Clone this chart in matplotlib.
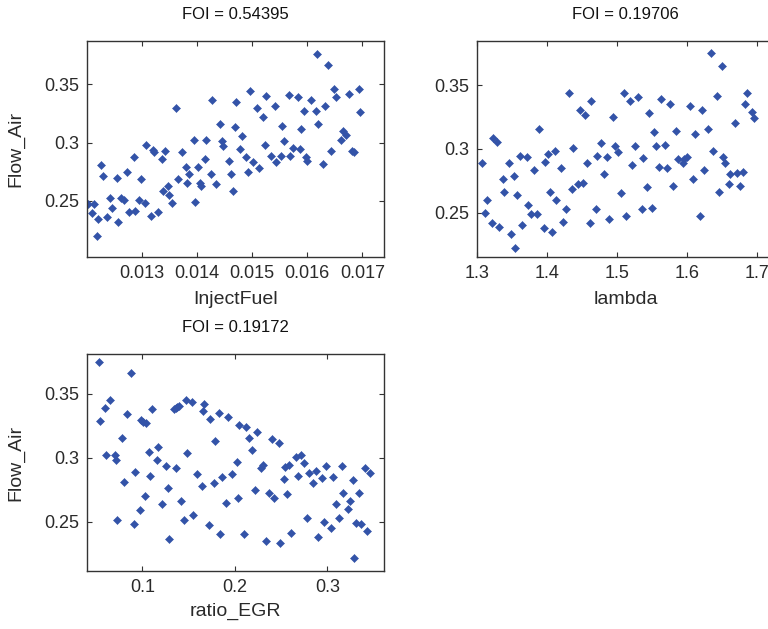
import matplotlib
matplotlib.use("Agg")
import matplotlib.pyplot as plt

# ---------------- data ----------------
inject_fuel = [0.01203, 0.01213, 0.01209, 0.01221, 0.01219, 0.01225, 0.01230, 0.01236, 0.01242, 0.01245,
               0.01255, 0.01256, 0.01262, 0.01267, 0.01273, 0.01276, 0.01285, 0.01288, 0.01294, 0.01299,
               0.01306, 0.01308, 0.01316, 0.01320, 0.01321, 0.01330, 0.01337, 0.01342, 0.01339, 0.01347,
               0.01350, 0.01355, 0.01362, 0.01365, 0.01372, 0.01380, 0.01382, 0.01385, 0.01394, 0.01397,
               0.01402, 0.01406, 0.01408, 0.01414, 0.01417, 0.01425, 0.01428, 0.01435, 0.01441, 0.01445,
               0.01448, 0.01458, 0.01461, 0.01465, 0.01468, 0.01471, 0.01478, 0.01481, 0.01489, 0.01492,
               0.01497, 0.01502, 0.01508, 0.01512, 0.01519, 0.01523, 0.01526, 0.01535, 0.01541, 0.01544,
               0.01552, 0.01555, 0.01558, 0.01567, 0.01569, 0.01575, 0.01584, 0.01587, 0.01589, 0.01595,
               0.01598, 0.01600, 0.01606, 0.01615, 0.01617, 0.01619, 0.01628, 0.01632, 0.01638, 0.01644,
               0.01648, 0.01653, 0.01661, 0.01664, 0.01670, 0.01675, 0.01682, 0.01685, 0.01694, 0.01696]
flow_air_1 = [0.2471, 0.2471, 0.2396, 0.2341, 0.2195, 0.2808, 0.2713, 0.2356, 0.2520, 0.2439,
              0.2699, 0.2316, 0.2520, 0.2506, 0.2751, 0.2399, 0.2875, 0.2411, 0.2506, 0.2684,
              0.2477, 0.2981, 0.2370, 0.2938, 0.2915, 0.2399, 0.2857, 0.2932, 0.2586, 0.2630,
              0.2549, 0.2477, 0.3298, 0.2684, 0.2915, 0.2794, 0.2656, 0.2728, 0.3024, 0.2491,
              0.2794, 0.2656, 0.2630, 0.2863, 0.3024, 0.2728, 0.3365, 0.2641, 0.3160, 0.3010,
              0.2967, 0.2846, 0.2728, 0.2586, 0.3134, 0.3350, 0.2944, 0.3053, 0.2875, 0.2751,
              0.3448, 0.2831, 0.3298, 0.2780, 0.3218, 0.2981, 0.3405, 0.2889, 0.3313, 0.2831,
              0.2889, 0.3146, 0.3010, 0.3408, 0.2889, 0.2952, 0.3390, 0.2947, 0.3120, 0.3269,
              0.2875, 0.2846, 0.3365, 0.3269, 0.3759, 0.3160, 0.2820, 0.3313, 0.3667, 0.2932,
              0.3463, 0.3390, 0.3024, 0.3097, 0.3068, 0.3419, 0.2924, 0.2915, 0.3463, 0.3261]

lambda_vals = [1.3072, 1.3119, 1.3143, 1.3215, 1.3234, 1.3281, 1.3319, 1.3367, 1.3391, 1.3453,
               1.3482, 1.3524, 1.3548, 1.3567, 1.3615, 1.3639, 1.3710, 1.3729, 1.3772, 1.3815,
               1.3863, 1.3892, 1.3954, 1.3973, 1.4020, 1.4044, 1.4068, 1.4116, 1.4135, 1.4201,
               1.4225, 1.4268, 1.4316, 1.4359, 1.4378, 1.4449, 1.4473, 1.4521, 1.4545, 1.4569,
               1.4611, 1.4631, 1.4702, 1.4721, 1.4769, 1.4816, 1.4859, 1.4883, 1.4950, 1.4974,
               1.5021, 1.5055, 1.5107, 1.5131, 1.5188, 1.5222, 1.5260, 1.5307, 1.5355, 1.5379,
               1.5436, 1.5465, 1.5508, 1.5536, 1.5555, 1.5598, 1.5627, 1.5694, 1.5713, 1.5760,
               1.5799, 1.5846, 1.5870, 1.5942, 1.5965, 1.6008, 1.6046, 1.6094, 1.6118, 1.6190,
               1.6213, 1.6247, 1.6304, 1.6342, 1.6366, 1.6437, 1.6461, 1.6499, 1.6523, 1.6547,
               1.6595, 1.6619, 1.6681, 1.6714, 1.6752, 1.6800, 1.6833, 1.6857, 1.6929, 1.6952]
flow_air_2 = [0.2886, 0.2500, 0.2599, 0.2416, 0.3082, 0.3056, 0.2390, 0.2761, 0.2659, 0.2886,
              0.2330, 0.2787, 0.2221, 0.2638, 0.2946, 0.2403, 0.2933, 0.2560, 0.2487, 0.2834,
              0.2487, 0.3155, 0.2377, 0.2897, 0.2960, 0.2659, 0.2351, 0.2986, 0.2599, 0.2847,
              0.2424, 0.2526, 0.3440, 0.2685, 0.3004, 0.2725, 0.3304, 0.2735, 0.3265, 0.2886,
              0.2416, 0.3377, 0.2526, 0.2946, 0.3048, 0.2800, 0.2933, 0.2450, 0.3252, 0.3025,
              0.2973, 0.2651, 0.3440, 0.2477, 0.3377, 0.2873, 0.3022, 0.3403, 0.2526, 0.2926,
              0.2698, 0.3278, 0.2539, 0.3129, 0.3022, 0.2860, 0.3390, 0.3030, 0.2847, 0.3351,
              0.2711, 0.3142, 0.2923, 0.2886, 0.2923, 0.2933, 0.3338, 0.2761, 0.3116, 0.2477,
              0.3304, 0.2834, 0.3155, 0.3751, 0.2986, 0.3416, 0.2664, 0.3651, 0.2933, 0.2886,
              0.2725, 0.2800, 0.3205, 0.2808, 0.2711, 0.2821, 0.3351, 0.3440, 0.3291, 0.3239]

ratio_egr = [0.0527, 0.0545, 0.0592, 0.0610, 0.0646, 0.0700, 0.0718, 0.0729, 0.0780, 0.0798,
             0.0834, 0.0881, 0.0906, 0.0921, 0.0971, 0.0982, 0.1007, 0.1025, 0.1043, 0.1069,
             0.1087, 0.1108, 0.1159, 0.1173, 0.1209, 0.1260, 0.1278, 0.1292, 0.1343, 0.1365,
             0.1375, 0.1397, 0.1368, 0.1415, 0.1448, 0.1466, 0.1480, 0.1531, 0.1549, 0.1585,
             0.1639, 0.1650, 0.1668, 0.1722, 0.1736, 0.1773, 0.1787, 0.1827, 0.1841, 0.1859,
             0.1906, 0.1928, 0.1964, 0.2029, 0.2018, 0.2047, 0.2097, 0.2116, 0.2152, 0.2181,
             0.2217, 0.2238, 0.2282, 0.2300, 0.2336, 0.2372, 0.2401, 0.2426, 0.2477, 0.2487,
             0.2527, 0.2542, 0.2560, 0.2588, 0.2606, 0.2657, 0.2682, 0.2715, 0.2751, 0.2783,
             0.2798, 0.2848, 0.2874, 0.2903, 0.2939, 0.2968, 0.2986, 0.3040, 0.3058, 0.3090,
             0.3123, 0.3155, 0.3173, 0.3220, 0.3242, 0.3278, 0.3292, 0.3307, 0.3347, 0.3361,
             0.3426, 0.3408, 0.3462]
flow_air_3 = [0.3748, 0.3291, 0.3388, 0.3022, 0.3453, 0.3022, 0.2983, 0.2513, 0.3158, 0.2808,
              0.3343, 0.3662, 0.2479, 0.2886, 0.2591, 0.3296, 0.3283, 0.2701, 0.3270, 0.3046,
              0.2858, 0.3380, 0.2983, 0.3082, 0.2638, 0.2936, 0.2761, 0.2364, 0.3380, 0.3388,
              0.3401, 0.3409, 0.2923, 0.2664, 0.2513, 0.3453, 0.3035, 0.3440, 0.2552, 0.2873,
              0.2782, 0.3367, 0.3419, 0.2474, 0.3304, 0.2800, 0.3132, 0.3354, 0.2403, 0.2847,
              0.2649, 0.3317, 0.2871, 0.2688, 0.2970, 0.3257, 0.2403, 0.3244, 0.3158, 0.3061,
              0.2748, 0.3205, 0.2918, 0.2944, 0.2351, 0.2727, 0.3145, 0.2688, 0.3119, 0.2330,
              0.2832, 0.2931, 0.2714, 0.2944, 0.2414, 0.3009, 0.2858, 0.3022, 0.2962, 0.2526,
              0.2884, 0.2800, 0.2897, 0.2377, 0.2839, 0.2500, 0.2936, 0.2453, 0.2847, 0.2638,
              0.2526, 0.2936, 0.2722, 0.2597, 0.2662, 0.2826, 0.2218, 0.2492, 0.2722, 0.2479,
              0.2430, 0.2923, 0.2884]

titles = ["FOI = 0.54395", "FOI = 0.19706", "FOI = 0.19172"]
xlabels = ["InjectFuel", "lambda", "ratio_EGR"]
ylabel = "Flow_Air"
xticks_1 = [0.013, 0.014, 0.015, 0.016, 0.017]
xticks_2 = [1.3, 1.4, 1.5, 1.6, 1.7]
xticks_3 = [0.1, 0.2, 0.3]
yticks = [0.25, 0.3, 0.35]

# ---------------- style ----------------
plt.rcParams['font.family'] = ['Liberation Sans', 'DejaVu Sans']
TITLE_FONT = ['Liberation Sans Narrow', 'Liberation Sans', 'DejaVu Sans']
MARKER_COLOR = '#3353A8'
TEXT_COLOR = '#2a2a2a'

W, H = 768, 629
fig = plt.figure(figsize=(W / 100, H / 100), dpi=100)
fig.patch.set_facecolor('white')


def make_axes(left, top, right, bottom):
    return fig.add_axes([left / W, 1 - bottom / H, (right - left) / W, (bottom - top) / H])


ax1 = make_axes(87, 41, 384, 257)
ax2 = make_axes(477, 41, 774, 257)
ax3 = make_axes(87, 354, 384, 571)

specs = [
    (ax1, inject_fuel, flow_air_1, xticks_1, (0.012003, 0.017393), (0.2016, 0.3874), True, -0.157),
    (ax2, lambda_vals, flow_air_2, xticks_2, (1.3, 1.7245), (0.2153, 0.3845), False, -0.157),
    (ax3, ratio_egr, flow_air_3, xticks_3, (0.0401, 0.3612), (0.2114, 0.3813), True, -0.147),
]

for i, (ax, xs, ys, xt, xl, yl, show_ylabel, xlab_y) in enumerate(specs):
    ax.plot(xs, ys, linestyle='none', marker='D', markersize=3.6,
            markerfacecolor=MARKER_COLOR, markeredgecolor=MARKER_COLOR, markeredgewidth=0.4)
    ax.set_xlim(*xl)
    ax.set_ylim(*yl)
    ax.set_xticks(xt)
    ax.set_xticklabels([f"{v:g}" for v in xt])
    ax.set_yticks(yticks)
    ax.set_yticklabels([f"{v:g}" for v in yticks])
    ax.tick_params(direction='in', length=3.5, width=0.8, top=True, right=True,
                   labelsize=13, colors='#333333', labelcolor=TEXT_COLOR, pad=5.5)
    for sp in ax.spines.values():
        sp.set_linewidth(1.0)
        sp.set_color('#333333')
    ax.set_title(titles[i], fontsize=12, family=TITLE_FONT, color='#111111', pad=16)
    ax.set_xlabel(xlabels[i], fontsize=14, color=TEXT_COLOR)
    ax.xaxis.set_label_coords(0.5, xlab_y)
    ax.xaxis.label.set_va('top')
    if show_ylabel:
        ax.set_ylabel(ylabel, fontsize=14, color=TEXT_COLOR)
        ax.yaxis.set_label_coords(-0.21, 0.5)

fig.savefig('out.png', dpi=100, facecolor='white')
